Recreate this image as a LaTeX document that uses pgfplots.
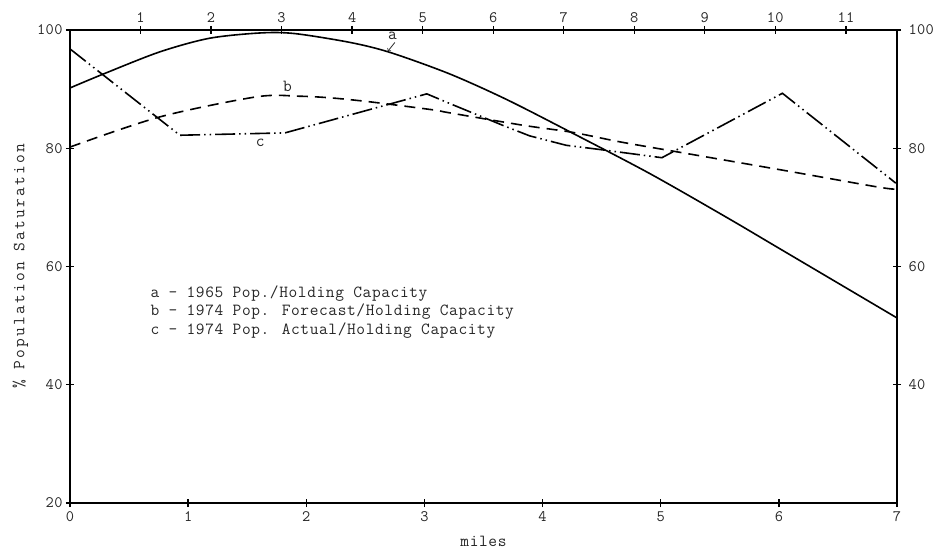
\documentclass[border=0pt]{standalone}
\usepackage{fontspec}
\newfontfamily\tw[LetterSpace=2]{Latin Modern Mono}
\newfontfamily\twl[LetterSpace=3.6]{Latin Modern Mono}
\newfontfamily\twsp[LetterSpace=13]{Latin Modern Mono}
\usepackage{pgfplots}
\pgfplotsset{compat=1.18}

\pgfplotstableread{
x y
0.00 90.2
0.30 92.7
0.76 96.3
1.18 98.6
1.61 99.5
1.90 99.4
2.37 97.9
2.71 96.2
3.21 92.6
3.69 88.3
4.23 82.8
4.90 75.8
5.55 68.4
6.00 63.1
7.00 51.3
}\seriesa

\pgfplotstableread{
x y
0.00 80.2
0.76 85.3
1.58 88.7
1.94 88.8
2.22 88.5
2.56 87.8
3.07 86.5
3.21 86.0
3.83 83.9
4.25 82.7
4.65 81.1
5.05 79.7
6.03 76.3
6.85 73.4
7.00 73.1
}\seriesb

\pgfplotstableread{
x y
0.00 96.8
0.93 82.2
1.82 82.6
3.02 89.2
3.21 87.6
3.66 83.9
3.89 82.1
4.20 80.5
4.48 79.8
5.01 78.4
6.03 89.3
6.99 74.1
}\seriesc

\begin{document}
\begin{tikzpicture}
\useasboundingbox (-70bp,-47bp) rectangle (872bp,503bp);
\begin{axis}[
  at={(0,0)}, anchor=south west,
  width=827bp, height=473bp, scale only axis,
  xmin=0, xmax=7, ymin=20, ymax=100,
  xtick={0,...,7}, ytick={20,40,60,80,100},
  tick pos=left, tick align=center,
  major tick length=8bp,
  /pgf/number format/assume math mode=true,
  axis line style={line width=1.8bp, black},
  tick style={line width=1.3bp, black},
  ticklabel style={font=\tw\fontsize{16}{18}\selectfont, text=black!85},
  xticklabel style={yshift=-1bp},
  xlabel={miles}, ylabel={\% Population Saturation},
  xlabel style={at={(axis description cs:0.5,-0.082)}, anchor=center, font=\twl\fontsize{17}{18}\selectfont, text=black!85},
  ylabel style={at={(axis description cs:-0.06,0.5)}, anchor=center, font=\twsp\fontsize{17}{18}\selectfont, text=black!85},
  clip=false,
]
\addplot[black, line width=1.6bp, smooth] table[x=x,y=y] {\seriesa};
\addplot[black, line width=1.6bp, smooth, dash pattern=on 11bp off 7bp] table[x=x,y=y] {\seriesb};
\addplot[black, line width=1.6bp, dash pattern=on 20bp off 4bp on 1.5bp off 4bp on 1.5bp off 4bp] table[x=x,y=y] {\seriesc};

\node[font=\twl\fontsize{17}{18}\selectfont, text=black!85] at (axis cs:2.73,99.0) {a};
\draw[->, line width=0.8bp, black!85] (axis cs:2.75,97.9) -- (axis cs:2.69,96.4);
\node[font=\twl\fontsize{17}{18}\selectfont, text=black!85] at (axis cs:1.84,90.4) {b};
\node[font=\twl\fontsize{17}{18}\selectfont, text=black!85] at (axis cs:1.61,81.0) {c};

\node[anchor=north west, align=left, inner sep=0pt, font=\twl\fontsize{17}{18.5}\selectfont, text=black!85] at (axis cs:0.68,56.8)
  {a - 1965 Pop./Holding Capacity\\
   b - 1974 Pop. Forecast/Holding Capacity\\
   c - 1974 Pop. Actual/Holding Capacity};
\end{axis}
\begin{axis}[
  at={(0,0)}, anchor=south west,
  width=827bp, height=473bp, scale only axis,
  xmin=0, xmax=11.725, ymin=20, ymax=100,
  xtick={1,...,11}, ytick={40,60,80,100},
  tick pos=right, xticklabel pos=right, yticklabel pos=right,
  tick align=center, major tick length=8bp,
  /pgf/number format/assume math mode=true,
  axis line style={draw=none},
  tick style={line width=1.3bp, black},
  ticklabel style={font=\tw\fontsize{16}{18}\selectfont, text=black!85},
  yticklabel style={xshift=4bp},
]
\end{axis}
\end{tikzpicture}
\end{document}
